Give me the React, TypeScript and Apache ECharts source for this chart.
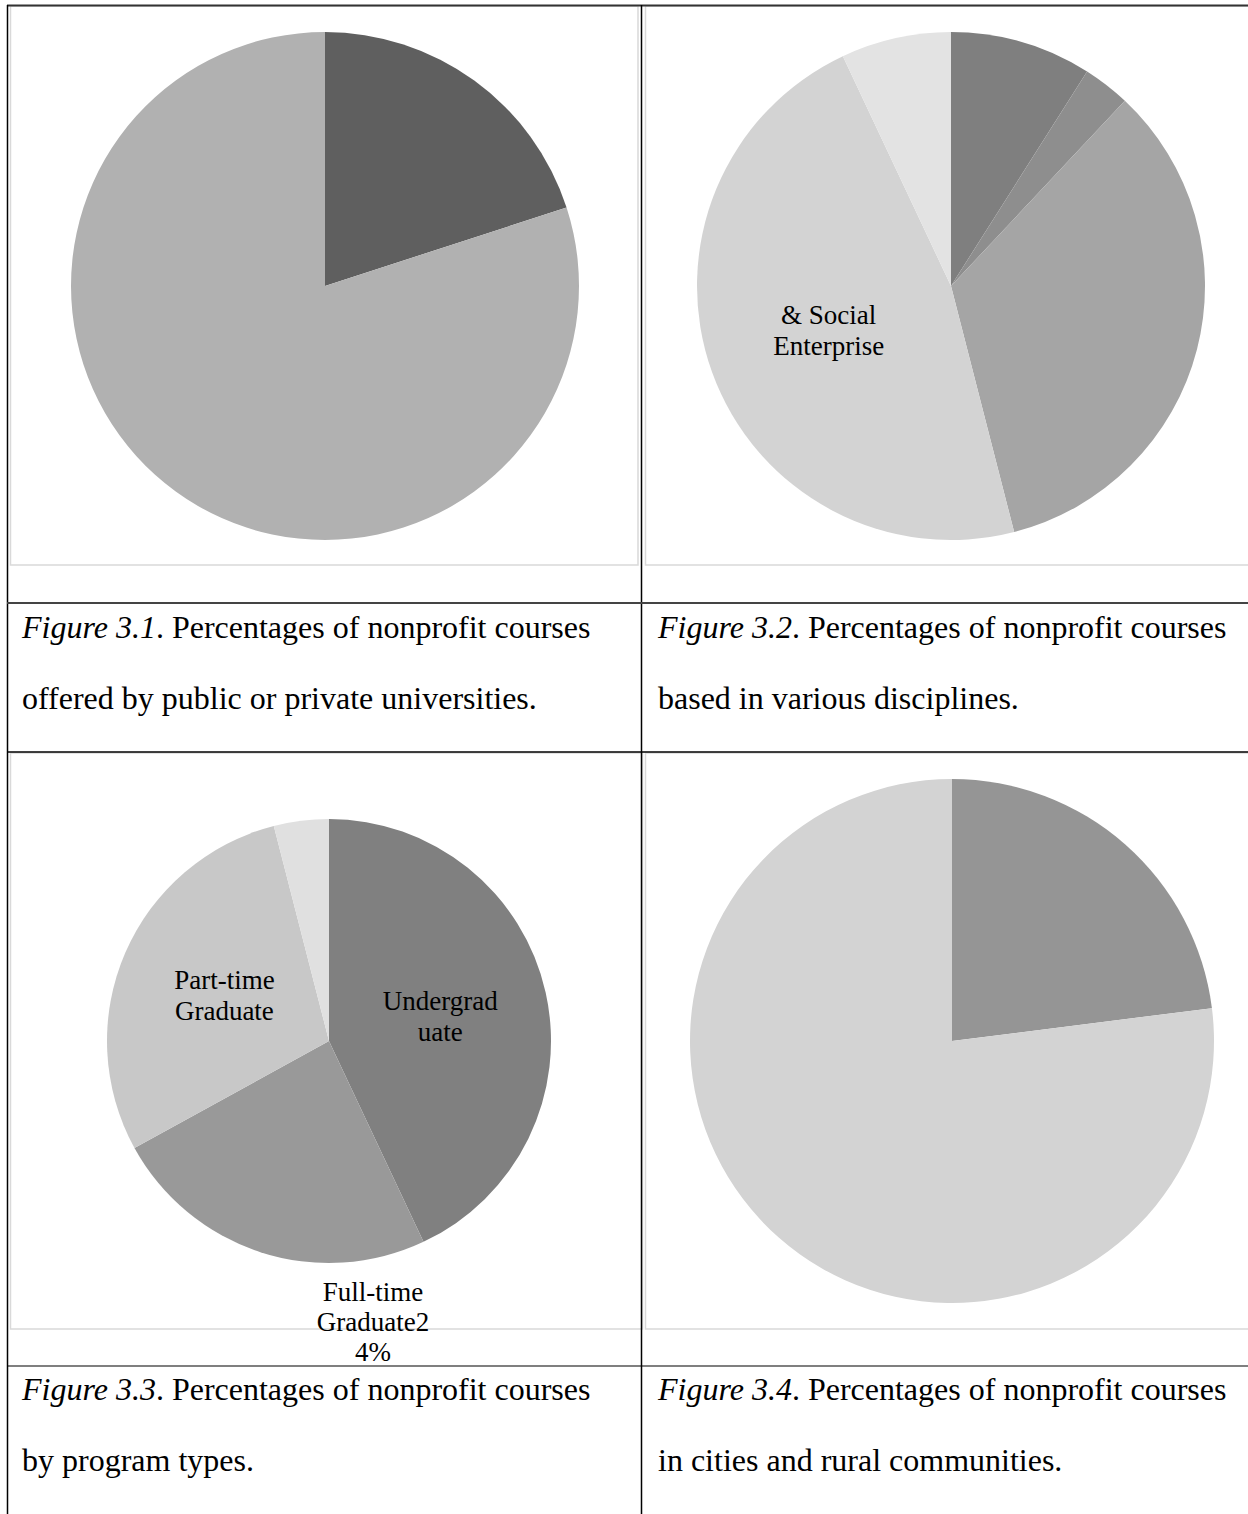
import React, { useEffect, useRef } from "react";
import * as echarts from "echarts";

const FONT = '"Liberation Serif", "Times New Roman", serif';

// Figure 3.1 – public vs private universities
const fig1Names = ["Private", "Public"];
const fig1Values = [20, 80];
const fig1Colors = ["#5f5f5f", "#b1b1b1"];

// Figure 3.2 – disciplines
const fig2Names = ["Discipline A", "Discipline B", "Discipline C", "& Social\nEnterprise", "Discipline E"];
const fig2Values = [9, 3, 34, 47, 7];
const fig2Colors = ["#7f7f7f", "#8e8e8e", "#a5a5a5", "#d3d3d3", "#e3e3e3"];
const fig2Labelled = [false, false, false, true, false];

// Figure 3.3 – program types
const fig3Names = ["Undergrad\nuate", "Full-time Graduate", "Part-time\nGraduate", "Other"];
const fig3Values = [43, 24, 29, 4];
const fig3Colors = ["#808080", "#999999", "#c8c8c8", "#e0e0e0"];
const fig3Labelled = [true, false, true, false];
const fig3OuterLabel = "Full-time\nGraduate2\n4%";

// Figure 3.4 – cities and rural communities
const fig4Names = ["Rural", "Cities"];
const fig4Values = [23, 77];
const fig4Colors = ["#959595", "#d3d3d3"];

const captions = [
  { fig: "Figure 3.1", l1: ". Percentages of nonprofit courses", l2: "offered by public or private universities." },
  { fig: "Figure 3.2", l1: ". Percentages of nonprofit courses", l2: "based in various disciplines." },
  { fig: "Figure 3.3", l1: ". Percentages of nonprofit courses", l2: "by program types." },
  { fig: "Figure 3.4", l1: ". Percentages of nonprofit courses", l2: "in cities and rural communities." },
];

function pieData(names: string[], values: number[], colors: string[], labelled?: boolean[]) {
  return names.map((n, i) => ({
    name: n,
    value: values[i],
    itemStyle: { color: colors[i] },
    label: { show: labelled ? labelled[i] : false },
  }));
}

export default function App() {
  const ref = useRef<HTMLDivElement>(null);
  useEffect(() => {
    if (!ref.current) return;
    const chart = echarts.init(ref.current, undefined, { renderer: "svg" });

    const labelStyle = {
      position: "inside",
      formatter: "{b}",
      color: "#000",
      fontFamily: FONT,
      fontSize: 27,
      lineHeight: 31,
    };
    const basePie = {
      type: "pie",
      startAngle: 90,
      clockwise: true,
      labelLine: { show: false },
      emphasis: { disabled: true },
      silent: true,
    };

    const frame = "#d9d9d9";
    const line = (x1: number, y1: number, x2: number, y2: number, color: string, w: number, z = 10) => ({
      type: "line",
      z,
      shape: { x1, y1, x2, y2 },
      style: { stroke: color, lineWidth: w },
      silent: true,
    });
    const frameRect = (x: number, y: number, w: number, h: number) => ({
      type: "rect",
      z: 1,
      shape: { x, y, width: w, height: h },
      style: { fill: "none", stroke: frame, lineWidth: 1.5 },
      silent: true,
    });

    const captionPos = [
      { x: 22, y: 627 },
      { x: 658, y: 627 },
      { x: 22, y: 1389 },
      { x: 658, y: 1389 },
    ];
    const captionTexts: any[] = [];
    captions.forEach((c, i) => {
      const p = captionPos[i];
      captionTexts.push({
        type: "text",
        z: 20,
        x: p.x,
        y: p.y,
        style: {
          text: `{i|${c.fig}}${c.l1}`,
          rich: { i: { fontStyle: "italic", fontFamily: FONT, fontSize: 32, fill: "#000" } },
          fontFamily: FONT,
          fontSize: 32,
          fill: "#000",
          verticalAlign: "middle",
          align: "left",
        },
      });
      captionTexts.push({
        type: "text",
        z: 20,
        x: p.x,
        y: p.y + 71,
        style: {
          text: c.l2,
          fontFamily: FONT,
          fontSize: 32,
          fill: "#000",
          verticalAlign: "middle",
          align: "left",
        },
      });
    });

    chart.setOption({
      animation: false,
      backgroundColor: "#ffffff",
      series: [
        { ...basePie, center: [325, 286], radius: 254, data: pieData(fig1Names, fig1Values, fig1Colors), label: labelStyle },
        { ...basePie, center: [951, 286], radius: 254, data: pieData(fig2Names, fig2Values, fig2Colors, fig2Labelled), label: labelStyle },
        { ...basePie, center: [329, 1041], radius: 222, data: pieData(fig3Names, fig3Values, fig3Colors, fig3Labelled), label: labelStyle },
        { ...basePie, center: [952, 1041], radius: 262, data: pieData(fig4Names, fig4Values, fig4Colors), label: labelStyle },
      ],
      graphic: [
        frameRect(10.5, 6, 627.5, 559),
        frameRect(645.5, 6, 640, 559),
        frameRect(10.5, 753, 632, 576),
        frameRect(645.5, 753, 640, 576),
        line(7, 5.5, 1248, 5.5, "#333333", 2),
        line(7.5, 5, 7.5, 1514, "#000000", 1.5),
        line(641.5, 5, 641.5, 1514, "#000000", 1.5),
        line(7, 603, 1248, 603, "#444444", 2),
        line(7, 752, 1248, 752, "#000000", 1.5),
        line(7, 1366, 1248, 1366, "#000000", 1.2),
        {
          type: "text",
          z: 20,
          x: 373,
          y: 1322,
          style: {
            text: fig3OuterLabel,
            fontFamily: FONT,
            fontSize: 27,
            lineHeight: 30,
            fill: "#000",
            align: "center",
            verticalAlign: "middle",
          },
        },
        ...captionTexts,
      ],
    });
    return () => chart.dispose();
  }, []);

  return (
    <div
      ref={ref}
      style={{ position: "absolute", left: 0, top: 0, width: 1248, height: 1514, background: "#fff" }}
    />
  );
}
